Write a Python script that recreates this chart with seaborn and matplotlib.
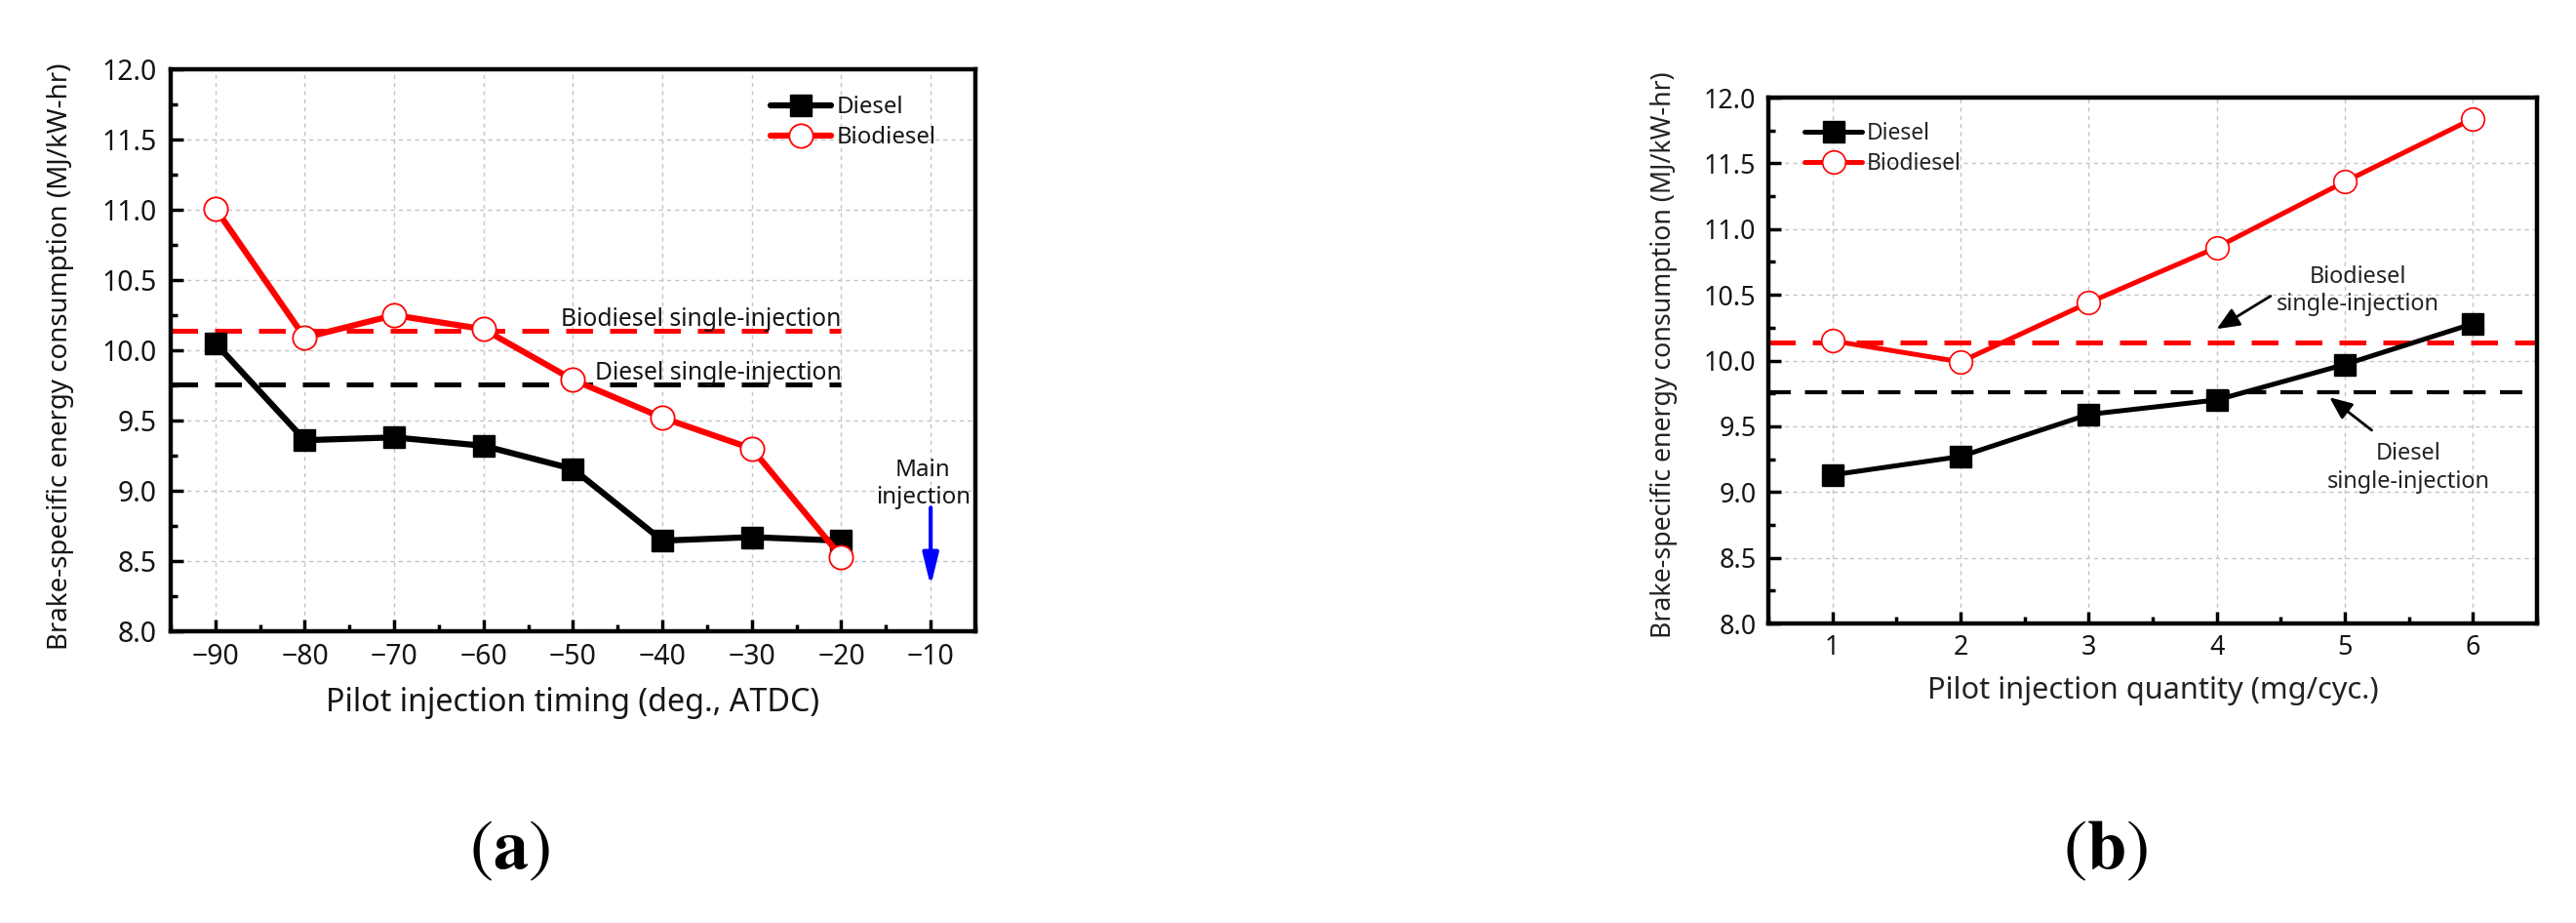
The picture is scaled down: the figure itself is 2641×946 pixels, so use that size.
import numpy as np
import pandas as pd
import matplotlib
matplotlib.use("Agg")
import matplotlib.pyplot as plt
from matplotlib.ticker import MultipleLocator
import seaborn as sns

# ---------------- data ----------------
timing = [-90, -80, -70, -60, -50, -40, -30, -20]
diesel_a = [10.05, 9.36, 9.38, 9.32, 9.155, 8.645, 8.67, 8.645]
biodiesel_a = [11.01, 10.09, 10.25, 10.15, 9.79, 9.52, 9.30, 8.53]

quantity = [1, 2, 3, 4, 5, 6]
diesel_b = [9.13, 9.27, 9.59, 9.70, 9.97, 10.28]
biodiesel_b = [10.15, 9.99, 10.44, 10.86, 11.36, 11.84]

ref_biodiesel = 10.14
ref_diesel = 9.76
main_injection = -10

xticks_a = [-90, -80, -70, -60, -50, -40, -30, -20, -10]
xticks_b = [1, 2, 3, 4, 5, 6]
yticks = [8.0, 8.5, 9.0, 9.5, 10.0, 10.5, 11.0, 11.5, 12.0]

ylabel = "Brake-specific energy consumption (MJ/kW-hr)"
xlabel_a = "Pilot injection timing (deg., ATDC)"
xlabel_b = "Pilot injection quantity (mg/cyc.)"

# ---------------- style ----------------
sns.set_theme(style="white")
FONT = ["Noto Sans", "DejaVu Sans"]
plt.rcParams["font.family"] = FONT
plt.rcParams["mathtext.fontset"] = "stix"

DPI = 100
fig = plt.figure(figsize=(26.41, 9.46), dpi=DPI, facecolor="white")
renderer = fig.canvas.get_renderer()


def fit(s, target_px):
    """font size (pt) giving a text width of target_px pixels"""
    t = fig.text(0, 0, s, fontsize=10)
    w = t.get_window_extent(renderer).width
    t.remove()
    return 10.0 * target_px / w


ax_a = fig.add_axes([0.06626, 0.31607, 0.31238, 0.60888])
ax_b = fig.add_axes([0.68648, 0.32452, 0.29837, 0.56977])

RED = "#ff0000"
TXT = "#151515"


def style_axes(ax, xlim, xticks, xminor, fs_tick, pad_x, pad_y):
    ax.set_xlim(*xlim)
    ax.set_ylim(8.0, 12.0)
    ax.set_xticks(xticks)
    ax.set_yticks(yticks)
    ax.set_yticklabels([f"{v:.1f}" for v in yticks])
    ax.xaxis.set_minor_locator(MultipleLocator(xminor))
    ax.yaxis.set_minor_locator(MultipleLocator(0.25))
    ax.tick_params(which="major", direction="in", length=9, width=2.5,
                   color="black", labelsize=fs_tick, labelcolor=TXT,
                   bottom=True, left=True, top=False, right=False)
    ax.tick_params(axis="x", which="major", pad=pad_x)
    ax.tick_params(axis="y", which="major", pad=pad_y)
    ax.tick_params(which="minor", direction="in", length=5, width=2.5,
                   color="black", bottom=True, left=True, top=False, right=False)
    for s in ax.spines.values():
        s.set_visible(True)
        s.set_linewidth(3.2)
        s.set_color("black")
    ax.grid(True, which="major", color="#c4c4c4", linestyle=(0, (3, 3)), linewidth=1.0)
    ax.set_axisbelow(True)
    ax.set_facecolor("white")


# ---------------- panel (a) ----------------
style_axes(ax_a, (-95, -5), xticks_a, 5, fit("12.0", 56), 9, 10)

ax_a.hlines(ref_biodiesel, -95, timing[-1], colors=RED, linestyles=(0, (5.5, 3.5)),
            linewidth=3.6, zorder=2)
ax_a.hlines(ref_diesel, -95, timing[-1], colors="black", linestyles=(0, (5.5, 3.5)),
            linewidth=3.6, zorder=2)

sns.lineplot(x=timing, y=diesel_a, ax=ax_a, color="black", linewidth=4.5,
             marker="s", markersize=16, markerfacecolor="black",
             markeredgecolor="black", markeredgewidth=1, label="Diesel", zorder=3)
sns.lineplot(x=timing, y=biodiesel_a, ax=ax_a, color=RED, linewidth=4.5,
             marker="o", markersize=17.5, markerfacecolor="white",
             markeredgecolor=RED, markeredgewidth=1.3, label="Biodiesel", zorder=4)

fs_ann_a = fit("Biodiesel single-injection", 288)
ax_a.text(timing[-1], ref_biodiesel + 0.035, "Biodiesel single-injection",
          ha="right", va="baseline", fontsize=fs_ann_a, color=TXT, zorder=5)
ax_a.text(timing[-1], ref_diesel + 0.035, "Diesel single-injection",
          ha="right", va="baseline", fontsize=fs_ann_a, color=TXT, zorder=5)
ax_a.text(main_injection - 0.85, 9.05, "Main\ninjection", ha="center", va="center",
          fontsize=fit("injection", 97), color=TXT, linespacing=1.2, zorder=5)
ax_a.annotate("", xy=(main_injection, 8.32), xytext=(main_injection, 8.88),
              arrowprops=dict(arrowstyle="-|>,head_length=0.9,head_width=0.22",
                              color="blue", lw=3, mutation_scale=22,
                              shrinkA=0, shrinkB=0), zorder=5)

ax_a.set_ylabel(ylabel, fontsize=fit(ylabel, 600), color=TXT)
ax_a.set_xlabel(xlabel_a, fontsize=fit(xlabel_a, 507), color=TXT)
ax_a.yaxis.label.set_va("center")
ax_a.xaxis.label.set_va("center")
ax_a.yaxis.set_label_coords(-0.137, 0.49)
ax_a.xaxis.set_label_coords(0.5, -0.128)

leg_a = ax_a.legend(loc="center left", bbox_to_anchor=(0.745, 0.905), frameon=False,
                    fontsize=fit("Biodiesel", 102), handlelength=2.6, handletextpad=0.25,
                    labelspacing=0.3, borderpad=0, borderaxespad=0)
for t in leg_a.get_texts():
    t.set_color(TXT)

# ---------------- panel (b) ----------------
style_axes(ax_b, (0.5, 6.5), xticks_b, 0.5, fit("12.0", 53), 8, 9)

ax_b.axhline(ref_biodiesel, color=RED, linestyle=(0, (5.5, 3.5)), linewidth=3.6, zorder=2)
ax_b.axhline(ref_diesel, color="black", linestyle=(0, (5.5, 3.5)), linewidth=3.0, zorder=2)

sns.lineplot(x=quantity, y=diesel_b, ax=ax_b, color="black", linewidth=3.6,
             marker="s", markersize=16, markerfacecolor="black",
             markeredgecolor="black", markeredgewidth=1, label="Diesel", zorder=3)
sns.lineplot(x=quantity, y=biodiesel_b, ax=ax_b, color=RED, linewidth=3.6,
             marker="o", markersize=17, markerfacecolor="white",
             markeredgecolor=RED, markeredgewidth=1.2, label="Biodiesel", zorder=4)

fs_ann_b = fit("single-injection", 167)
ax_b.text(5.10, 10.53, "Biodiesel\nsingle-injection", ha="center", va="center",
          fontsize=fs_ann_b, color="#222222", linespacing=1.25, zorder=5)
ax_b.text(5.50, 9.185, "Diesel\nsingle-injection", ha="center", va="center",
          fontsize=fs_ann_b, color="#222222", linespacing=1.25, zorder=5)
ax_b.annotate("", xy=(4.0, 10.24), xytext=(4.42, 10.49),
              arrowprops=dict(arrowstyle="-|>,head_length=0.7,head_width=0.3",
                              color="black", lw=2, mutation_scale=20,
                              shrinkA=0, shrinkB=0), zorder=5)
ax_b.annotate("", xy=(4.88, 9.72), xytext=(5.21, 9.47),
              arrowprops=dict(arrowstyle="-|>,head_length=0.7,head_width=0.3",
                              color="black", lw=2, mutation_scale=20,
                              shrinkA=0, shrinkB=0), zorder=5)

ax_b.set_ylabel(ylabel, fontsize=fit(ylabel, 579), color="#222222")
ax_b.set_xlabel(xlabel_b, fontsize=fit(xlabel_b, 463), color="#222222")
ax_b.yaxis.label.set_va("center")
ax_b.xaxis.label.set_va("center")
ax_b.yaxis.set_label_coords(-0.136, 0.51)
ax_b.xaxis.set_label_coords(0.5, -0.128)

leg_b = ax_b.legend(loc="center left", bbox_to_anchor=(0.047, 0.903), frameon=False,
                    fontsize=fit("Biodiesel", 97), handlelength=2.6, handletextpad=0.2,
                    labelspacing=0.3, borderpad=0, borderaxespad=0)
for t in leg_b.get_texts():
    t.set_color("#222222")

# ---------------- captions ----------------
fig.text(0.19765, 0.077, r"($\mathbf{a}$)", ha="center", va="center",
         fontsize=52, family="STIXGeneral", color="black")
fig.text(0.8171, 0.077, r"($\mathbf{b}$)", ha="center", va="center",
         fontsize=52, family="STIXGeneral", color="black")

fig.savefig("out.png", dpi=DPI, facecolor="white")
